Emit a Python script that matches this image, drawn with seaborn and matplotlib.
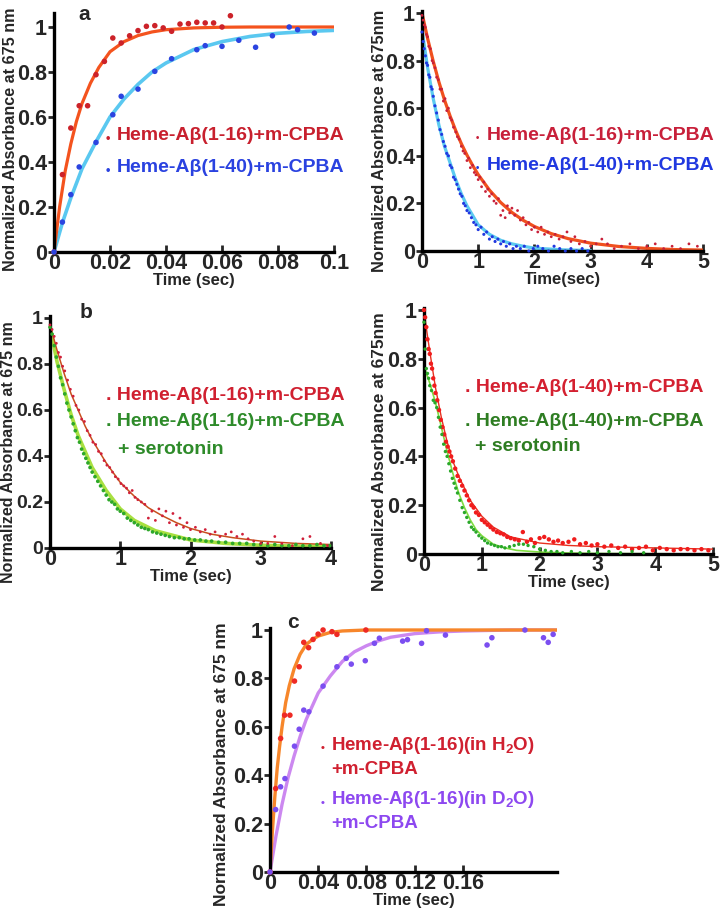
import numpy as np
import pandas as pd
import matplotlib
matplotlib.use("Agg")
import matplotlib.pyplot as plt
import seaborn as sns

# ---- panel a (left): fast rise, 0-0.1 s ----
a_t_16 = [0.000, 0.003, 0.006, 0.009, 0.012, 0.015, 0.018, 0.021, 0.024, 0.027, 0.030,
          0.033, 0.036, 0.039, 0.042, 0.045, 0.048, 0.051, 0.054, 0.057, 0.060, 0.063]
a_y_16 = [0.00, 0.344, 0.551, 0.650, 0.650, 0.788, 0.847, 0.951, 0.929, 0.961, 0.984,
          1.003, 1.006, 0.996, 0.981, 1.013, 1.015, 1.021, 1.018, 1.018, 1.000, 1.050]
a_t_40 = [0.000, 0.003, 0.006, 0.009, 0.015, 0.021, 0.024, 0.030, 0.036, 0.042, 0.051,
          0.054, 0.060, 0.066, 0.072, 0.078, 0.084, 0.087, 0.093]
a_y_40 = [0.00, 0.133, 0.255, 0.378, 0.487, 0.610, 0.692, 0.724, 0.803, 0.859, 0.899,
          0.917, 0.914, 0.941, 0.910, 0.961, 1.000, 0.988, 0.973]
a_fit_t16 = [0, 0.002, 0.004, 0.006, 0.008, 0.010, 0.013, 0.016, 0.020, 0.025, 0.030,
             0.035, 0.040, 0.050, 0.060, 0.070, 0.080, 0.090, 0.100]
a_fit_y16 = [0, 0.20, 0.36, 0.48, 0.58, 0.66, 0.75, 0.82, 0.89, 0.935, 0.962,
             0.978, 0.988, 0.996, 0.999, 1.0, 1.0, 1.0, 1.0]
a_fit_t40 = [0, 0.003, 0.006, 0.010, 0.015, 0.020, 0.025, 0.030, 0.035, 0.040, 0.050,
             0.060, 0.070, 0.080, 0.090, 0.100]
a_fit_y40 = [0, 0.13, 0.24, 0.37, 0.49, 0.60, 0.68, 0.745, 0.80, 0.84, 0.90,
             0.935, 0.958, 0.972, 0.980, 0.985]

# ---- panel a (right): decay, 0-5 s ----
r_t_16 = [0.00, 0.02, 0.04, 0.06, 0.08, 0.10, 0.12, 0.15, 0.18, 0.20,
          0.23, 0.26, 0.29, 0.32, 0.35, 0.38, 0.41, 0.44, 0.47, 0.50, 0.53, 0.56,
          0.60, 0.63, 0.66, 0.70, 0.73, 0.76, 0.80, 0.83, 0.86, 0.90, 0.93, 0.96, 1.00,
          1.03, 1.06, 1.10, 1.13, 1.17, 1.20, 1.24, 1.28, 1.32, 1.36, 1.40, 1.44, 1.48,
          1.52, 1.56, 1.60, 1.65, 1.70, 1.75, 1.80, 1.85, 1.90, 1.95, 2.00,
          2.06, 2.12, 2.18, 2.24, 2.30, 2.37, 2.44, 2.51, 2.58, 2.65, 2.72, 2.80,
          2.90, 3.00, 3.10, 3.20, 3.30, 3.42, 3.55, 3.70, 3.85, 4.00, 4.15, 4.30,
          4.45, 4.60, 4.75, 4.90]
r_y_16 = [0.99, 0.97, 0.95, 0.94, 0.91, 0.90, 0.86, 0.85, 0.80, 0.79,
          0.77, 0.73, 0.72, 0.68, 0.68, 0.63, 0.64, 0.59, 0.60, 0.56, 0.55, 0.52,
          0.50, 0.48, 0.47, 0.44, 0.42, 0.41, 0.38, 0.39, 0.35, 0.36, 0.33, 0.32, 0.30,
          0.31, 0.27, 0.29, 0.25, 0.26, 0.23, 0.24, 0.21, 0.20, 0.22, 0.15, 0.17, 0.14,
          0.19, 0.16, 0.18, 0.15, 0.17, 0.13, 0.14, 0.11, 0.12, 0.09, 0.10,
          0.08, 0.10, 0.07, 0.08, 0.06, 0.07, 0.05, 0.06, 0.08, 0.04, 0.06, 0.03,
          0.04, 0.02, 0.03, 0.05, 0.03, 0.01, 0.02, 0.03, 0.01, 0.02, 0.03, 0.01,
          0.02, 0.01, 0.03, 0.02]
r_t_40 = [0.00, 0.02, 0.04, 0.06, 0.08, 0.10, 0.12, 0.14, 0.16, 0.18, 0.20,
          0.23, 0.26, 0.29, 0.32, 0.35, 0.38, 0.41, 0.44, 0.47, 0.50, 0.53, 0.56,
          0.59, 0.62, 0.65, 0.68, 0.71, 0.74, 0.77, 0.80,
          0.84, 0.88, 0.92, 0.96, 1.00,
          1.05, 1.10, 1.15, 1.20, 1.25, 1.30, 1.35, 1.40, 1.45, 1.50,
          1.56, 1.62, 1.68, 1.75, 1.82, 1.90, 1.98, 2.06, 2.15, 2.25, 2.35, 2.45,
          2.55, 2.65, 2.75, 2.85, 2.95]
r_y_40 = [0.92, 0.88, 0.85, 0.82, 0.79, 0.78, 0.74, 0.73, 0.69, 0.68, 0.65,
          0.61, 0.58, 0.55, 0.51, 0.49, 0.46, 0.44, 0.41, 0.40, 0.36, 0.35, 0.31,
          0.30, 0.28, 0.26, 0.24, 0.23, 0.20, 0.19, 0.17,
          0.16, 0.14, 0.12, 0.11, 0.09,
          0.10, 0.07, 0.08, 0.05, 0.06, 0.04, 0.05, 0.03, 0.04, 0.02,
          0.03, 0.01, 0.02, 0.01, 0.02, 0.00, 0.01, 0.02, 0.01, 0.00, 0.02, 0.01,
          0.00, 0.01, 0.00, 0.01, 0.00]
r_fit_t16 = [0, 0.1, 0.2, 0.3, 0.4, 0.5, 0.6, 0.7, 0.8, 0.9, 1.0, 1.2, 1.4, 1.6, 1.8,
             2.0, 2.3, 2.6, 3.0, 3.5, 4.0, 4.5, 5.0]
r_fit_y16 = [1.0, 0.893, 0.797, 0.711, 0.635, 0.567, 0.506, 0.451, 0.403, 0.360, 0.321,
             0.256, 0.204, 0.162, 0.129, 0.103, 0.073, 0.052, 0.033, 0.019, 0.011,
             0.006, 0.004]
r_fit_t40 = [0, 0.1, 0.2, 0.3, 0.4, 0.5, 0.6, 0.7, 0.8, 0.9, 1.0, 1.2, 1.4, 1.6, 1.8,
             2.0, 2.5, 3.0]
r_fit_y40 = [0.93, 0.77, 0.64, 0.53, 0.44, 0.37, 0.30, 0.24, 0.19, 0.15, 0.11, 0.07,
             0.045, 0.03, 0.02, 0.012, 0.005, 0.002]

# ---- panel b (left): Abeta(1-16) +/- serotonin ----
b_t_red = [0.00, 0.03, 0.06, 0.09, 0.12, 0.15, 0.18, 0.21,
           0.25, 0.29, 0.33, 0.37, 0.41, 0.45, 0.49, 0.53, 0.57, 0.61, 0.65, 0.69,
           0.73, 0.77, 0.81, 0.85, 0.89, 0.93, 0.97, 1.01, 1.05, 1.09, 1.13, 1.17,
           1.21, 1.25,
           1.30, 1.35, 1.40, 1.45, 1.50, 1.55, 1.60, 1.65, 1.70, 1.75, 1.80, 1.85,
           1.90, 1.95, 2.00,
           2.07, 2.14, 2.21, 2.28, 2.35, 2.42,
           2.50, 2.58, 2.66, 2.74, 2.82, 2.90,
           3.00, 3.10, 3.20, 3.30,
           3.45, 3.60, 3.70, 3.85, 3.95]
b_y_red = [0.97, 0.95, 0.92, 0.89, 0.85, 0.83, 0.79, 0.77,
           0.73, 0.69, 0.66, 0.62, 0.60, 0.56, 0.55, 0.51, 0.49, 0.46, 0.45, 0.42,
           0.41, 0.38, 0.36, 0.35, 0.33, 0.31, 0.30, 0.28, 0.27, 0.26, 0.24, 0.25,
           0.22, 0.21,
           0.20, 0.19, 0.13, 0.16, 0.12, 0.17, 0.14, 0.16, 0.11, 0.15, 0.10, 0.13,
           0.09, 0.11, 0.08,
           0.09, 0.07, 0.08, 0.06, 0.07, 0.05,
           0.06, 0.07, 0.05, 0.06, 0.04, 0.03,
           0.02, 0.02, 0.05, 0.02,
           0.01, 0.04, 0.05, 0.02, 0.01]
b_t_green = [0.00, 0.03, 0.06, 0.09, 0.12, 0.15, 0.18, 0.21, 0.24, 0.27, 0.30, 0.33,
             0.36, 0.39, 0.42, 0.45, 0.48, 0.51, 0.54, 0.57, 0.60, 0.64, 0.68, 0.72,
             0.76, 0.80, 0.84, 0.88, 0.92, 0.96, 1.00, 1.05, 1.10, 1.15, 1.20, 1.25,
             1.30, 1.35, 1.40, 1.46, 1.52, 1.58, 1.64, 1.70, 1.77, 1.84, 1.91, 1.98,
             2.06, 2.14, 2.22, 2.30, 2.40, 2.50, 2.60, 2.70, 2.80, 2.90, 3.00, 3.10,
             3.20, 3.30, 3.40, 3.50, 3.60, 3.70, 3.80, 3.90, 3.98]
b_y_green = [0.96, 0.93, 0.88, 0.83, 0.79, 0.74, 0.71, 0.67, 0.63, 0.60, 0.57, 0.54,
             0.51, 0.48, 0.46, 0.43, 0.41, 0.39, 0.37, 0.35, 0.33, 0.31, 0.29, 0.27,
             0.25, 0.23, 0.21, 0.20, 0.19, 0.17, 0.16, 0.15, 0.13, 0.12, 0.11, 0.10,
             0.09, 0.085, 0.08, 0.07, 0.065, 0.06, 0.055, 0.05, 0.045, 0.045, 0.04, 0.04,
             0.035, 0.035, 0.03, 0.03, 0.025, 0.025, 0.02, 0.02, 0.02, 0.015, 0.015, 0.01,
             0.015, 0.01, 0.01, 0.015, 0.01, 0.01, 0.015, 0.01, 0.01]
b_fit_t_red = [0, 0.1, 0.2, 0.3, 0.4, 0.5, 0.6, 0.8, 1.0, 1.2, 1.4, 1.6, 1.8, 2.0, 2.3,
               2.6, 3.0, 3.5, 4.0]
b_fit_y_red = [0.97, 0.86, 0.76, 0.67, 0.60, 0.53, 0.47, 0.37, 0.285, 0.225, 0.175,
               0.14, 0.11, 0.085, 0.06, 0.045, 0.03, 0.02, 0.015]
b_fit_t_green = [0, 0.1, 0.2, 0.3, 0.4, 0.5, 0.6, 0.8, 1.0, 1.2, 1.5, 2.0, 2.5, 3.0,
                 3.5, 4.0]
b_fit_y_green = [0.96, 0.81, 0.69, 0.58, 0.49, 0.42, 0.35, 0.25, 0.17, 0.12, 0.075,
                 0.035, 0.02, 0.012, 0.008, 0.006]

# ---- panel b (right): Abeta(1-40) +/- serotonin ----
d_t_red = [0.00, 0.02, 0.04, 0.06, 0.08, 0.10, 0.12, 0.14, 0.16, 0.18, 0.20,
           0.23, 0.26, 0.29, 0.32, 0.35, 0.38, 0.41, 0.44, 0.47, 0.50,
           0.54, 0.58, 0.62, 0.66, 0.70, 0.74, 0.78, 0.82, 0.86, 0.90,
           0.95, 1.00, 1.05, 1.10, 1.15, 1.20,
           1.26, 1.32, 1.38, 1.44, 1.50,
           1.57, 1.64, 1.71, 1.78, 1.85, 1.92,
           2.00, 2.08, 2.16, 2.24, 2.32, 2.40,
           2.50, 2.60, 2.70, 2.80, 2.90, 3.00,
           3.12, 3.24, 3.36, 3.48, 3.60, 3.72, 3.84, 3.96, 4.08, 4.20, 4.32, 4.44,
           4.56, 4.68, 4.80, 4.92]
d_y_red = [1.00, 0.97, 0.93, 0.88, 0.84, 0.82, 0.78, 0.76, 0.72, 0.69, 0.66,
           0.63, 0.59, 0.55, 0.52, 0.49, 0.46, 0.44, 0.42, 0.40, 0.38,
           0.35, 0.32, 0.30, 0.28, 0.26, 0.24, 0.22, 0.20, 0.19, 0.17,
           0.16, 0.14, 0.13, 0.12, 0.11, 0.10,
           0.09, 0.085, 0.08, 0.07, 0.065,
           0.06, 0.055, 0.09, 0.05, 0.06, 0.045,
           0.065, 0.07, 0.06, 0.05, 0.055, 0.045,
           0.05, 0.06, 0.04, 0.045, 0.035, 0.04,
           0.03, 0.035, 0.025, 0.03, 0.02, 0.025, 0.03, 0.015, 0.025, 0.02, 0.015, 0.02,
           0.02, 0.015, 0.02, 0.015]
d_t_green = [0.00, 0.02, 0.04, 0.06, 0.08, 0.10,
             0.13, 0.16, 0.19, 0.22, 0.25, 0.28, 0.31, 0.34, 0.37, 0.40, 0.43, 0.46,
             0.49, 0.52, 0.55, 0.58,
             0.62, 0.66, 0.70, 0.74, 0.78, 0.82, 0.86, 0.90,
             0.95, 1.00, 1.05, 1.10,
             1.16, 1.22, 1.28, 1.34, 1.40,
             1.48, 1.56, 1.64, 1.72, 1.80,
             1.90, 2.00, 2.10, 2.20, 2.30, 2.40,
             2.55, 2.70, 2.85, 3.00,
             3.20, 3.40, 3.60, 3.80]
d_y_green = [0.95, 0.84, 0.76, 0.74, 0.72, 0.69,
             0.67, 0.63, 0.62, 0.60, 0.56, 0.52, 0.49, 0.45, 0.42, 0.40, 0.37, 0.34,
             0.31, 0.29, 0.27, 0.25,
             0.22, 0.19, 0.17, 0.15, 0.13, 0.11, 0.10, 0.09,
             0.075, 0.065, 0.055, 0.045,
             0.04, 0.035, 0.03, 0.03, 0.025,
             0.03, 0.035, 0.04, 0.04, 0.035,
             0.03, 0.02, 0.015, 0.01, 0.01, 0.005,
             0.01, 0.005, 0.01, 0.005,
             0.01, 0.005, 0.01, 0.005]
d_fit_t_red = [0, 0.05, 0.1, 0.2, 0.3, 0.4, 0.5, 0.6, 0.8, 1.0, 1.2, 1.5, 2.0, 2.5,
               3.0, 4.0, 5.0]
d_fit_y_red = [1.0, 0.91, 0.83, 0.68, 0.56, 0.46, 0.38, 0.32, 0.22, 0.155, 0.11,
               0.07, 0.045, 0.035, 0.03, 0.025, 0.02]
d_fit_t_green = [0, 0.1, 0.2, 0.3, 0.4, 0.5, 0.6, 0.7, 0.8, 0.9, 1.0, 1.2, 1.4, 1.6,
                 2.0, 2.5, 3.0, 4.0, 5.0]
d_fit_y_green = [0.77, 0.70, 0.62, 0.52, 0.42, 0.33, 0.25, 0.19, 0.14, 0.10, 0.075,
                 0.04, 0.025, 0.015, 0.008, 0.004, 0.002, 0.001, 0.0]

# ---- panel c: H2O vs D2O ----
c_t_h2o = [0.0, 0.0047, 0.0088, 0.0121, 0.0165, 0.0203, 0.0242, 0.028, 0.032, 0.0357,
           0.0399, 0.044, 0.0514, 0.0555, 0.0795]
c_y_h2o = [0.0, 0.345, 0.552, 0.648, 0.648, 0.789, 0.848, 0.949, 0.927, 0.961,
           0.983, 1.0, 0.993, 0.982, 1.0]
c_t_d2o = [0.0, 0.0047, 0.0088, 0.0124, 0.0203, 0.0242, 0.028, 0.0322, 0.044, 0.0555,
           0.0632, 0.0674, 0.079, 0.0866, 0.0907, 0.110, 0.114, 0.1257, 0.1298,
           0.1455, 0.180, 0.184, 0.2114, 0.2268, 0.2307, 0.2348]
c_y_d2o = [0.0, 0.258, 0.352, 0.386, 0.52, 0.59, 0.669, 0.662, 0.768, 0.848,
           0.883, 0.859, 0.873, 0.945, 0.966, 0.954, 0.96, 0.945, 0.997,
           0.979, 0.938, 0.968, 1.0, 0.968, 0.949, 0.982]
c_fit_t_h2o = [0, 0.002, 0.004, 0.006, 0.008, 0.010, 0.013, 0.016, 0.020, 0.025, 0.030,
               0.035, 0.040, 0.050, 0.060, 0.080, 0.120, 0.180, 0.238]
c_fit_y_h2o = [0, 0.17, 0.31, 0.43, 0.52, 0.60, 0.70, 0.77, 0.84, 0.90, 0.94,
               0.96, 0.975, 0.99, 0.996, 1.0, 1.0, 1.0, 1.0]
c_fit_t_d2o = [0, 0.005, 0.01, 0.015, 0.02, 0.025, 0.03, 0.04, 0.05, 0.06, 0.07, 0.08,
               0.09, 0.10, 0.12, 0.14, 0.16, 0.18, 0.20, 0.238]
c_fit_y_d2o = [0, 0.15, 0.28, 0.39, 0.48, 0.56, 0.63, 0.74, 0.81, 0.87, 0.91, 0.935,
               0.955, 0.97, 0.985, 0.992, 0.996, 0.998, 1.0, 1.0]

y_ticks = [0, 0.2, 0.4, 0.6, 0.8, 1]
FONT = "Liberation Sans"
W, H = 721, 923

sns.set_style("ticks")
plt.rcParams["font.family"] = [FONT, "DejaVu Sans"]
plt.rcParams["font.weight"] = "bold"
plt.rcParams["mathtext.fontset"] = "custom"
plt.rcParams["mathtext.rm"] = FONT + ":bold"
plt.rcParams["mathtext.default"] = "rm"

fig = plt.figure(figsize=(W / 100, H / 100), dpi=100)


def px_axes(left, right, y0, y1, ytop):
    # y0 = pixel row of value 0, y1 = pixel row of value 1
    per = y0 - y1
    top = y0 - per * ytop
    ax = fig.add_axes([left / W, (H - y0) / H, (right - left) / W, (y0 - top) / H])
    ax._px = (left, right, top, y0)
    return ax


def fmt(v):
    return f"{v:g}"


def style(ax, xlim, xticks, ytop, xlabel, ylabel, ylab_x, ylab_y, ylab_size,
          tick_size=15.5):
    ax.set_xlim(*xlim)
    ax.set_ylim(0, ytop)
    ax.set_xticks(xticks)
    ax.set_xticklabels([fmt(v) for v in xticks])
    ax.set_yticks(y_ticks)
    ax.set_yticklabels([fmt(v) for v in y_ticks])
    for s in ["top", "right"]:
        ax.spines[s].set_visible(False)
    for s in ["left", "bottom"]:
        ax.spines[s].set_linewidth(2.4)
        ax.spines[s].set_color("black")
    ax.tick_params(axis="x", direction="in", length=5, width=2, labelsize=15.5, pad=1)
    ax.tick_params(axis="y", direction="out", length=4, width=2, labelsize=tick_size, pad=1)
    for lab in ax.get_xticklabels() + ax.get_yticklabels():
        lab.set_fontweight("bold")
    ax.set_xlabel(xlabel, fontsize=12, fontweight="bold", labelpad=-1)
    ax.set_ylabel(ylabel, fontsize=ylab_size, fontweight="bold")
    # place y label centre at a pixel position of the figure
    left, right, top, bottom = ax._px
    ax.yaxis.set_label_coords((ylab_x - left) / (right - left),
                              (bottom - ylab_y) / (bottom - top))
    ax.yaxis.label.set_verticalalignment("center")
    ax.yaxis.label.set_horizontalalignment("center")
    ax.set_facecolor("white")


def scatter(ax, t, y, color, size):
    df = pd.DataFrame({"t": t, "y": y})
    sns.scatterplot(data=df, x="t", y="y", ax=ax, color=color, s=size,
                    edgecolor="none", linewidth=0, clip_on=False, zorder=3)


def fit(ax, t, y, color, lw):
    df = pd.DataFrame({"t": t, "y": y})
    sns.lineplot(data=df, x="t", y="y", ax=ax, color=color, linewidth=lw,
                 zorder=2, sort=False)


def label(x, y, s, color, size=14, ha="left"):
    fig.text(x / W, 1 - y / H, s, color=color, fontsize=size, fontweight="bold",
             ha=ha, va="center")


# panel a left
ax1 = px_axes(54, 334, 252, 27, 1.06)
fit(ax1, a_fit_t40, a_fit_y40, "#5ac8f0", 2.6)
fit(ax1, a_fit_t16, a_fit_y16, "#f4531e", 2.3)
scatter(ax1, a_t_16, a_y_16, "#cc2229", 16)
scatter(ax1, a_t_40, a_y_40, "#2b44e0", 16)
style(ax1, (0, 0.1), [0, 0.02, 0.04, 0.06, 0.08, 0.1], 1.06,
      "Time (sec)", "Normalized Absorbance at 675 nm", 11, 139, 11.6)
label(106, 139, "•", "#c8202e", size=9)
label(117, 135, "Heme-Aβ(1-16)+m-CPBA", "#c8202e")
label(106, 171, "•", "#2a42e0", size=9)
label(117, 167, "Heme-Aβ(1-40)+m-CPBA", "#2a42e0")
fig.text(78 / W, 1 - 15 / H, "a", fontsize=15, fontweight="bold", va="center")

# panel a right
ax2 = px_axes(422, 703, 251, 13, 1.01)
scatter(ax2, r_t_40, r_y_40, "#2038e0", 5)
scatter(ax2, r_t_16, r_y_16, "#c8203a", 4)
fit(ax2, r_fit_t40, r_fit_y40, "#5ccaf0", 2.3)
fit(ax2, r_fit_t16, r_fit_y16, "#f0501e", 2.3)
style(ax2, (0, 5), [0, 1, 2, 3, 4, 5], 1.01,
      "Time(sec)", "Normalized Absorbance at 675nm", 379, 141, 11.8)
label(476, 138, "•", "#c8203a", size=7)
label(487, 135, "Heme-Aβ(1-16)+m-CPBA", "#c8203a")
label(476, 168, "•", "#2038e0", size=7)
label(487, 165, "Heme-Aβ(1-40)+m-CPBA", "#2038e0")

# panel b left
ax3 = px_axes(50, 331, 548, 318, 1.01)
fit(ax3, b_fit_t_green, b_fit_y_green, "#a8e040", 2.6)
scatter(ax3, b_t_green, b_y_green, "#2ea82a", 7)
scatter(ax3, b_t_red, b_y_red, "#d0203a", 4)
fit(ax3, b_fit_t_red, b_fit_y_red, "#c8501e", 1.1)
style(ax3, (0, 4), [0, 1, 2, 3, 4], 1.01,
      "Time (sec)", "Normalized Absorbance at 675 nm", 9, 452, 11.5, tick_size=14)
label(106, 395, ". Heme-Aβ(1-16)+m-CPBA", "#d02030")
label(106, 422, ". Heme-Aβ(1-16)+m-CPBA", "#2e8b2a")
label(118, 450, "+ serotonin", "#2e8b2a")
fig.text(80 / W, 1 - 313 / H, "b", fontsize=15, fontweight="bold", va="center")

# panel b right
ax4 = px_axes(424, 713, 554, 310, 1.01)
scatter(ax4, d_t_red, d_y_red, "#f01c1c", 10)
scatter(ax4, d_t_green, d_y_green, "#2aa82a", 6)
fit(ax4, d_fit_t_red, d_fit_y_red, "#e83020", 1.0)
fit(ax4, d_fit_t_green, d_fit_y_green, "#80dd40", 1.2)
style(ax4, (0, 5), [0, 1, 2, 3, 4, 5], 1.01,
      "Time (sec)", "Normalized Absorbance at 675nm", 379, 452, 12.5)
label(465, 388, ". Heme-Aβ(1-40)+m-CPBA", "#d42030")
label(465, 422, ". Heme-Aβ(1-40)+m-CPBA", "#2e7d22")
label(475, 447, "+ serotonin", "#2e7d22")

# panel c
ax5 = px_axes(270, 557, 872, 630, 1.01)
fit(ax5, c_fit_t_d2o, c_fit_y_d2o, "#cc88f0", 2.4)
fit(ax5, c_fit_t_h2o, c_fit_y_h2o, "#f7862a", 2.4)
scatter(ax5, c_t_h2o, c_y_h2o, "#ee2a24", 16)
scatter(ax5, c_t_d2o, c_y_d2o, "#7b4ef0", 16)
style(ax5, (0, 0.238), [0, 0.04, 0.08, 0.12, 0.16], 1.01,
      "Time (sec)", "Normalized Absorbance at 675 nm", 221, 764, 12.5)
label(321, 748, "•", "#d02030", size=8)
label(331, 745, "Heme-Aβ(1-16)(in H$_2$O)", "#d02030", size=13.5)
label(331, 769, "+m-CPBA", "#d02030", size=13.5)
label(321, 803, "•", "#8d48f0", size=8)
label(331, 800, "Heme-Aβ(1-16)(in D$_2$O)", "#8d48f0", size=13.5)
label(331, 823, "+m-CPBA", "#8d48f0", size=13.5)
fig.text(287 / W, 1 - 622 / H, "c", fontsize=15, fontweight="bold", va="center")

fig.savefig("out.png", dpi=100, facecolor="white")
